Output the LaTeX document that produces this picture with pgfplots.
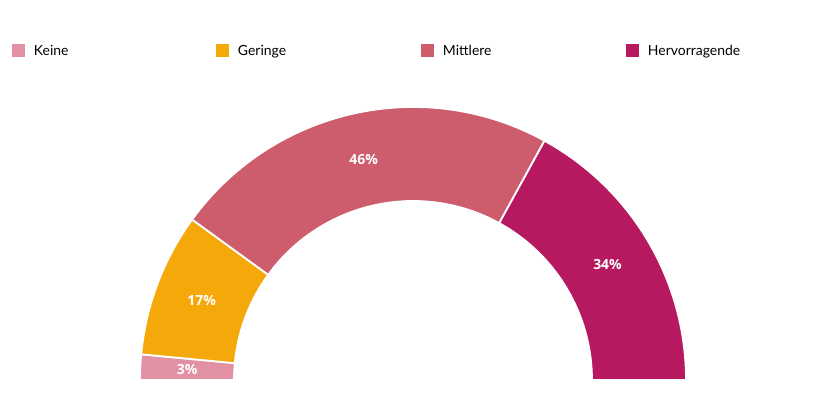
\documentclass[border=0pt]{standalone}
\usepackage{fontspec}
\setmainfont{Lato}
\newfontfamily\lblfont{Open Sans}
\usepackage{pgfplots}
\usepackage{pgfplotstable}
\pgfplotsset{compat=1.18}
\definecolor{cKeine}{HTML}{E291A4}
\definecolor{cGeringe}{HTML}{F5A80A}
\definecolor{cMittlere}{HTML}{CD5C6D}
\definecolor{cHerv}{HTML}{B6195F}
\pgfplotstableread{
label value
Keine 3
Geringe 17
Mittlere 46
Hervorragende 34
}\datatable
\begin{document}
\begin{tikzpicture}
\pgfplotstablegetelem{0}{value}\of\datatable \let\vA\pgfplotsretval
\pgfplotstablegetelem{1}{value}\of\datatable \let\vB\pgfplotsretval
\pgfplotstablegetelem{2}{value}\of\datatable \let\vC\pgfplotsretval
\pgfplotstablegetelem{3}{value}\of\datatable \let\vD\pgfplotsretval
\pgfmathsetmacro\aA{180}
\pgfmathsetmacro\aB{\aA-1.8*\vA}
\pgfmathsetmacro\aC{\aB-1.8*\vB}
\pgfmathsetmacro\aD{\aC-1.8*\vC}
\pgfmathsetmacro\aE{\aD-1.8*\vD}
\def\cx{413}\def\cy{16}\def\Ro{273}\def\Ri{179}\def\Rm{226}
\newcommand\donutwedge[3]{%
  \fill[#3, draw=white, line width=1.8bp, line join=miter]
   (axis cs:{\cx+\Ro*cos(#1)},{\cy+\Ro*sin(#1)}) arc[start angle=#1, end angle=#2, radius=\Ro bp]
   -- (axis cs:{\cx+\Ri*cos(#2)},{\cy+\Ri*sin(#2)}) arc[start angle=#2, end angle=#1, radius=\Ri bp] -- cycle;}
\newcommand\donutlabel[3]{%
  \node[text=white, font=\lblfont\bfseries\fontsize{14}{15}\selectfont, inner sep=0]
   at (axis cs:{\cx+\Rm*cos((#1+#2)/2)},{\cy+\Rm*sin((#1+#2)/2)}) {#3\%};}
\begin{axis}[
  width=830bp, height=396bp, scale only axis,
  xmin=0, xmax=830, ymin=0, ymax=396,
  hide axis, clip=false,
  legend columns=4,
  legend style={at={(axis cs:12,345)}, anchor=west, draw=none, fill=none,
    inner sep=0pt, outer sep=0pt,
    nodes={inner sep=0pt, font=\fontsize{14}{16}\selectfont},
    /tikz/every odd column/.style={column sep=0pt},
    /tikz/every even column/.style={column sep=0pt}},
  legend image code/.code={\fill[#1, draw=none] (0bp,-6.5bp) rectangle (13bp,6.5bp); \path (22bp,0bp);},
]
\addlegendimage{fill=cKeine, draw=none}
\addlegendentry{\makebox[182bp][l]{Keine}}
\addlegendimage{fill=cGeringe, draw=none}
\addlegendentry{\makebox[183bp][l]{Geringe}}
\addlegendimage{fill=cMittlere, draw=none}
\addlegendentry{\makebox[183bp][l]{Mittlere}}
\addlegendimage{fill=cHerv, draw=none}
\addlegendentry{Hervorragende}
\donutwedge{\aA}{\aB}{cKeine}
\donutwedge{\aB}{\aC}{cGeringe}
\donutwedge{\aC}{\aD}{cMittlere}
\donutwedge{\aD}{\aE}{cHerv}
\donutlabel{\aA}{\aB}{\vA}
\donutlabel{\aB}{\aC}{\vB}
\donutlabel{\aC}{\aD}{\vC}
\donutlabel{\aD}{\aE}{\vD}
\end{axis}
\path (0,0) rectangle (830bp,396bp);
\end{tikzpicture}
\end{document}
